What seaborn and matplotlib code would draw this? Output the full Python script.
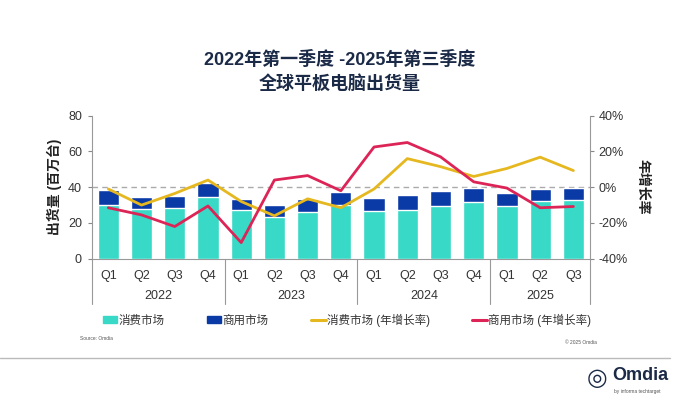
import numpy as np
import pandas as pd
import seaborn as sns
import matplotlib.pyplot as plt
from matplotlib.patches import Patch
from matplotlib.lines import Line2D

# quarterly shipments (millions) and YoY growth (%)
quarters = ["Q1", "Q2", "Q3", "Q4"] * 3 + ["Q1", "Q2", "Q3"]
years = ["2022", "2023", "2024", "2025"]
consumer = [29.8, 28.0, 28.5, 34.5, 27.2, 23.5, 26.3, 29.8,
            26.7, 27.2, 29.5, 31.9, 29.5, 32.1, 32.8]
total = [38.2, 34.3, 34.9, 42.2, 33.2, 30.0, 33.6, 37.5,
         33.8, 35.4, 38.0, 39.7, 36.5, 39.2, 39.6]
consumer_yoy = [-1, -10, -3.5, 4, -8, -16, -6.5, -11.5,
                -1, 16, 11.5, 6, 10.5, 16.8, 9.3]
commercial_yoy = [-11.5, -15.5, -22, -10.5, -31, 4, 6.5, -2,
                  22.5, 25, 17, 3, -0.5, -11.5, -10.8]

teal = "#38D9C6"
navy = "#0A3AA6"
gold = "#E6B820"
crimson = "#DD2457"
dark = "#1B2A47"
grey = "#555555"

sns.set_style("white")
plt.rcParams['font.family'] = ['Liberation Sans', 'Noto Sans CJK SC']

df = pd.DataFrame({
    "idx": np.arange(len(total)),
    "total": total,
    "consumer": consumer,
    "consumer_yoy": consumer_yoy,
    "commercial_yoy": commercial_yoy,
})

fig = plt.figure(figsize=(6.8, 3.98), dpi=100)
ax = fig.add_axes([91.7 / 680, 1 - 258.7 / 398, 498.3 / 680, 143 / 398])

sns.barplot(data=df, x="idx", y="total", color=navy, width=0.64,
            saturation=1, ax=ax, zorder=2)
sns.barplot(data=df, x="idx", y="consumer", color=teal, width=0.64,
            saturation=1, ax=ax, zorder=3)
ax.set_ylim(0, 80)
ax.set_xlim(-0.5, len(total) - 0.5)
ax.axhline(40, color="#aaaaaa", lw=1, ls=(0, (4, 3)), zorder=1)
ax.set_yticks([0, 20, 40, 60, 80])
ax.tick_params(axis="y", length=3, color="#888888", labelsize=9,
               labelcolor="#333333", pad=4, left=True)
ax.set_xticks(range(len(total)))
ax.set_xticklabels(quarters)
ax.tick_params(axis="x", length=0, labelsize=9, labelcolor="#333333", pad=8)
ax.set_xlabel("")
ax.set_ylabel("出货量 (百万台)", fontsize=10, fontweight="bold", color="#222222",
              labelpad=4)
for s in ["top", "right"]:
    ax.spines[s].set_visible(False)
for s in ["left", "bottom"]:
    ax.spines[s].set_color("#999999")
    ax.spines[s].set_linewidth(0.8)

ax2 = ax.twinx()
sns.lineplot(data=df, x="idx", y="consumer_yoy", color=gold, lw=2, ax=ax2,
             zorder=4)
sns.lineplot(data=df, x="idx", y="commercial_yoy", color=crimson, lw=2, ax=ax2,
             zorder=5)
ax2.set_ylim(-40, 40)
ax2.set_yticks([-40, -20, 0, 20, 40])
ax2.set_yticklabels([f"{v}%" for v in [-40, -20, 0, 20, 40]])
ax2.tick_params(axis="y", length=3, color="#888888", labelsize=9,
                labelcolor="#333333", pad=3, right=True)
ax2.set_ylabel("年增长率", fontsize=10, fontweight="bold", color="#222222",
               rotation=-90, labelpad=16)
for s in ["top", "left", "bottom"]:
    ax2.spines[s].set_visible(False)
ax2.spines["right"].set_color("#999999")
ax2.spines["right"].set_linewidth(0.8)

# year group separators and labels below the axis
trans = ax.get_xaxis_transform()
for b in [-0.5, 3.5, 7.5, 11.5, len(total) - 0.5]:
    ax.plot([b, b], [0, -0.32], color="#999999", lw=0.8, transform=trans,
            clip_on=False)
starts = [0, 4, 8, 12]
ends = [3, 7, 11, len(total) - 1]
for yr, s, e in zip(years, starts, ends):
    ax.text((s + e) / 2, -0.26, yr, transform=trans, ha="center", va="center",
            fontsize=9, color="#333333")

fig.text(0.5, 1 - 60 / 398, "2022年第一季度 -2025年第三季度", ha="center",
         va="center", fontsize=13, fontweight="bold", color=dark)
fig.text(0.5, 1 - 84 / 398, "全球平板电脑出货量", ha="center", va="center",
         fontsize=13, fontweight="bold", color=dark)

handles = [
    Patch(color=teal, label="消费市场"),
    Patch(color=navy, label="商用市场"),
    Line2D([], [], color=gold, lw=2.2, label="消费市场 (年增长率)"),
    Line2D([], [], color=crimson, lw=2.2, label="商用市场 (年增长率)"),
]
fig.legend(handles=handles, loc="center", bbox_to_anchor=(0.51, 1 - 320 / 398),
           ncol=4, frameon=False, fontsize=8.3, handlelength=1.25,
           handleheight=0.6, handletextpad=0.1, columnspacing=3.7,
           labelcolor="#333333")

fig.text(80 / 680, 1 - 339 / 398, "Source: Omdia", fontsize=3.5, color=grey,
         va="center")
fig.text(565 / 680, 1 - 342 / 398, "© 2025 Omdia", fontsize=3.5, color=grey,
         va="center")
fig.add_artist(Line2D([0, 0.985], [1 - 358 / 398] * 2, color="#bbbbbb", lw=1,
                      transform=fig.transFigure))

# logo
fig.text(597 / 680, 1 - 378 / 398, "◎", fontsize=17, color=dark,
         va="center", ha="center", family=["DejaVu Sans"])
fig.text(612 / 680, 1 - 376 / 398, "Omdia", fontsize=13, fontweight="bold",
         color=dark, va="center", ha="left")
fig.text(614 / 680, 1 - 391 / 398, "by informa techtarget", fontsize=3.5,
         color=grey, va="center", ha="left")

fig.savefig("out.png", dpi=100)
